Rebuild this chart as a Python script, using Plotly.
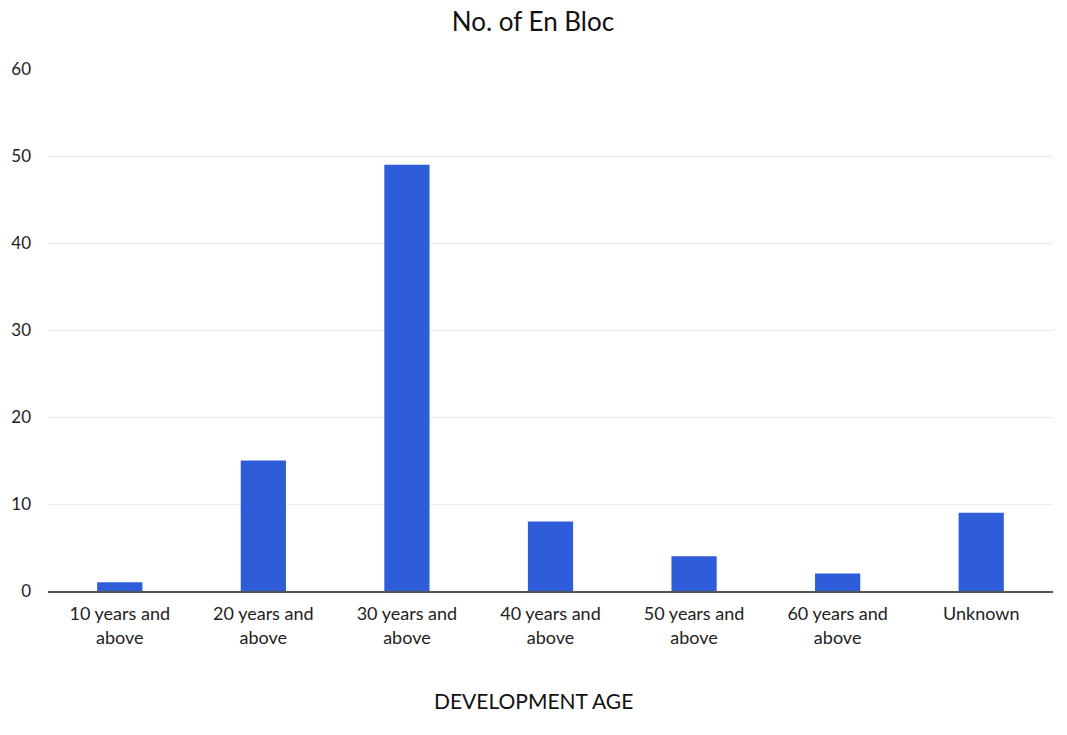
import plotly.graph_objects as go

categories = ["10 years and<br>above", "20 years and<br>above", "30 years and<br>above",
              "40 years and<br>above", "50 years and<br>above", "60 years and<br>above", "Unknown"]
values = [1, 15, 49, 8, 4, 2, 9]
y_ticks = [0, 10, 20, 30, 40, 50, 60]

FONT = "Lato"

fig = go.Figure(go.Bar(x=categories, y=values, marker=dict(color="#2F5CD8", line=dict(width=0)),
                       hoverinfo="x+y"))

fig.update_layout(
    width=1067, height=735,
    margin=dict(l=40, r=22, t=61, b=152),
    paper_bgcolor="white", plot_bgcolor="white",
    font=dict(family=FONT, color="#222222"),
    bargap=0.685,
    showlegend=False,
    title=dict(text="No. of En Bloc", x=0.492, xanchor="center", y=0.993, yanchor="top",
               pad=dict(t=0, b=0),
               font=dict(size=26, family=FONT, color="#111111")),
    xaxis=dict(showgrid=False, showline=True, linecolor="#555555", linewidth=1.5, automargin=False,
               tickfont=dict(size=18, family=FONT, color="#222222"), ticks="", ticklabelstandoff=6),
    yaxis=dict(range=[0, 60], tickvals=y_ticks, showgrid=True, gridcolor="#EBEBEB", gridwidth=1,
               zeroline=False, showline=False, ticks="", automargin=False,
               tickfont=dict(size=17, family=FONT, color="#222222"), ticklabelstandoff=16),
    annotations=[dict(text="DEVELOPMENT AGE", xref="paper", yref="paper", x=0.483, y=-0.21,
                      xanchor="center", yanchor="middle", showarrow=False,
                      font=dict(size=21, family=FONT, color="#111111"))],
)

fig.write_html("out.html")
